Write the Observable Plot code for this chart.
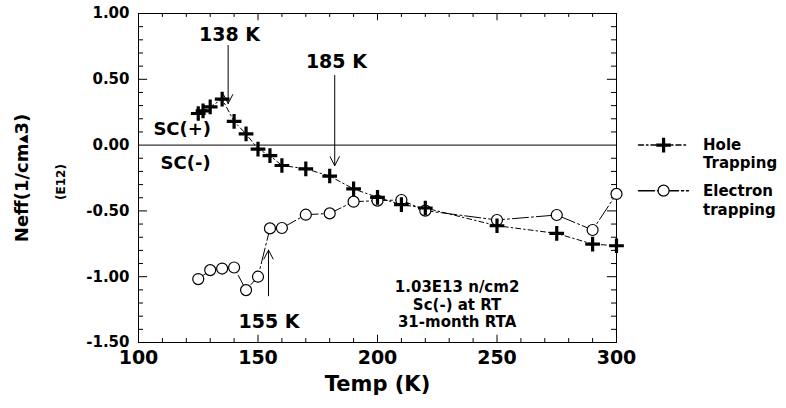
<!DOCTYPE html>
<html><head><meta charset="utf-8">
<script src="https://cdn.jsdelivr.net/npm/d3@7"></script>
<script src="https://cdn.jsdelivr.net/npm/@observablehq/plot@0.6"></script>
<style>
body{margin:0;background:#fff}
#chart svg{font-family:"DejaVu Sans",sans-serif;font-weight:bold}
</style>
</head><body><div id="chart"></div>
<script>
// ---- data ----
const holeTemps   = [125,127,130,135,140,145,150,155,160,170,180,190,200,210,220,250,275,290,300];
const holeValues  = [0.24,0.26,0.29,0.35,0.18,0.085,-0.03,-0.08,-0.155,-0.18,-0.235,-0.333,-0.397,-0.453,-0.478,-0.613,-0.671,-0.752,-0.765];
const electronTemps  = [125,130,135,140,145,150,155,160,170,180,190,200,210,220,250,275,290,300];
const electronValues = [-1.018,-0.95,-0.938,-0.93,-1.102,-1.0,-0.633,-0.63,-0.529,-0.519,-0.43,-0.422,-0.417,-0.498,-0.569,-0.531,-0.645,-0.371];
const seriesNames = ["Hole\nTrapping", "Electron\ntrapping"];
const xTicks = [100,150,200,250,300];
const xMinorTicks = [110,120,130,140,160,170,180,190,210,220,230,240,260,270,280,290];
const xMajorInner = [150,200,250];
const yTicks = [1,0.5,0,-0.5,-1,-1.5];
const yMinorTicks = [0.9,0.8,0.7,0.6,0.4,0.3,0.2,0.1,-0.1,-0.2,-0.3,-0.4,-0.6,-0.7,-0.8,-0.9,-1.1,-1.2,-1.3,-1.4];
const yMajorInner = [0.5,-0.5,-1];
const arrowLabels = ["138 K","185 K","155 K"];
const arrowTemps  = [137.5,182.1,154.4];
const regionLabels = ["SC(+)","SC(-)"];
const noteLines = ["1.03E13 n/cm2","Sc(-) at RT","31-month RTA"];
const xTitle = "Temp (K)";
const yTitle = "Neff(1/cm\u25B43)";
const yUnit = "(E12)";

// ---- layout (positions, not data) ----
const X0 = 100, X1 = 300, Y0 = -1.5, Y1 = 1;
const arrowLayout = [
  {tx:138.1, ty:0.841, y1:0.757, y2:0.316},
  {tx:182.8, ty:0.635, y1:0.529, y2:-0.156},
  {tx:154.6, ty:-1.347, y1:-1.145, y2:-0.798}
];
const regionLayout = [{x:118.3,y:0.118},{x:119.7,y:-0.137}];
const noteLayout = {x:233.3, y:[-1.082,-1.214,-1.343]};
const legendLayout = {x1:309.2, x2:330.1, xs:319.7, xt:336.2, ys:[0.0,-0.346], yt:[[0.0,-0.141],[-0.354,-0.498]]};
// tick lengths in data units (≈4/7 px vertically, 5/9 px horizontally)
const tickLenX = {minor:0.03, major:0.055};
const tickLenY = {minor:2.1, major:3.8};

const hole = holeTemps.map((t,i)=>({t, v:holeValues[i]}));
const electron = electronTemps.map((t,i)=>({t, v:electronValues[i]}));
const arrows = arrowLabels.map((s,i)=>({s, x:arrowTemps[i], ...arrowLayout[i]}));
const regions = regionLabels.map((s,i)=>({s, ...regionLayout[i]}));
const notes = noteLines.map((s,i)=>({s, x:noteLayout.x, y:noteLayout.y[i]}));
const holeDash = "5,3,1.5,3";
const elecDash = "16,3,2,3";
const legLines = [
  {x:legendLayout.x1, y:legendLayout.ys[0], k:0},{x:legendLayout.x2, y:legendLayout.ys[0], k:0},
  {x:legendLayout.x1, y:legendLayout.ys[1], k:1},{x:legendLayout.x2, y:legendLayout.ys[1], k:1}
];
const legText = seriesNames.flatMap((n,k)=>n.split("\n").map((s,j)=>({s, x:legendLayout.xt, y:legendLayout.yt[k][j]})));

const tickRulesX = (ticks, len) => [
  Plot.ruleX(ticks, {x:d=>d, y1:Y0, y2:Y0+len, stroke:"black", strokeWidth:1}),
  Plot.ruleX(ticks, {x:d=>d, y1:Y1, y2:Y1-len, stroke:"black", strokeWidth:1})
];
const tickRulesY = (ticks, len) => [
  Plot.ruleY(ticks, {y:d=>d, x1:X0, x2:X0+len, stroke:"black", strokeWidth:1}),
  Plot.ruleY(ticks, {y:d=>d, x1:X1, x2:X1-len, stroke:"black", strokeWidth:1})
];

const chart = Plot.plot({
  width:786, height:408,
  marginLeft:138, marginRight:170, marginTop:13, marginBottom:66,
  x:{domain:[X0,X1], label:null},
  y:{domain:[Y0,Y1], label:null},
  style:{fontFamily:"DejaVu Sans", fontWeight:"bold", color:"black", background:"white"},
  marks:[
    Plot.ruleY([0], {stroke:"black", strokeWidth:1}),
    ...tickRulesX(xMinorTicks, tickLenX.minor),
    ...tickRulesX(xMajorInner, tickLenX.major),
    ...tickRulesY(yMinorTicks, tickLenY.minor),
    ...tickRulesY(yMajorInner, tickLenY.major),
    Plot.axisX(xTicks, {anchor:"bottom", tickSize:0, tickPadding:8, fontSize:19, tickFormat:d=>String(d), label:null}),
    Plot.axisY(yTicks, {anchor:"left", tickSize:0, tickPadding:9, fontSize:15, tickFormat:d=>d.toFixed(2), label:null}),
    Plot.frame({stroke:"black", strokeWidth:1}),
    Plot.line(electron, {x:"t", y:"v", stroke:"black", strokeWidth:1, strokeDasharray:elecDash}),
    Plot.line(hole, {x:"t", y:"v", stroke:"black", strokeWidth:1, strokeDasharray:holeDash}),
    Plot.dot(electron, {x:"t", y:"v", r:5.5, stroke:"black", fill:"white", strokeWidth:1.2}),
    Plot.dot(hole, {x:"t", y:"v", symbol:"plus", r:4.8, stroke:"black", strokeWidth:3.2}),
    Plot.arrow(arrows, {x1:"x", x2:"x", y1:"y1", y2:"y2", stroke:"black", strokeWidth:1, headLength:15, headAngle:55}),
    Plot.text(arrows, {x:"tx", y:"ty", text:"s", fontSize:19, fill:"black"}),
    Plot.text(regions, {x:"x", y:"y", text:"s", fontSize:18, fill:"black"}),
    Plot.text(notes, {x:"x", y:"y", text:"s", fontSize:15, fill:"black"}),
    // legend
    Plot.line(legLines.filter(d=>d.k===0), {x:"x", y:"y", stroke:"black", strokeDasharray:holeDash}),
    Plot.line(legLines.filter(d=>d.k===1), {x:"x", y:"y", stroke:"black", strokeDasharray:elecDash}),
    Plot.dot([{x:legendLayout.xs, y:legendLayout.ys[1]}], {x:"x", y:"y", r:5.5, stroke:"black", fill:"white", strokeWidth:1.2}),
    Plot.dot([{x:legendLayout.xs, y:legendLayout.ys[0]}], {x:"x", y:"y", symbol:"plus", r:4.8, stroke:"black", strokeWidth:3.2}),
    Plot.text(legText, {x:"x", y:"y", text:"s", textAnchor:"start", fontSize:15, fill:"black"}),
    // axis titles
    Plot.text([xTitle], {frameAnchor:"bottom", dy:48, fontSize:21, fill:"black"}),
    Plot.text([yTitle], {frameAnchor:"left", textAnchor:"middle", dx:-116, rotate:-90, fontSize:18, fill:"black"}),
    Plot.text([yUnit], {frameAnchor:"left", textAnchor:"middle", dx:-77, dy:4, rotate:-90, fontSize:12, fill:"black"})
  ]
});
document.getElementById("chart").append(chart);
</script>
</body></html>
